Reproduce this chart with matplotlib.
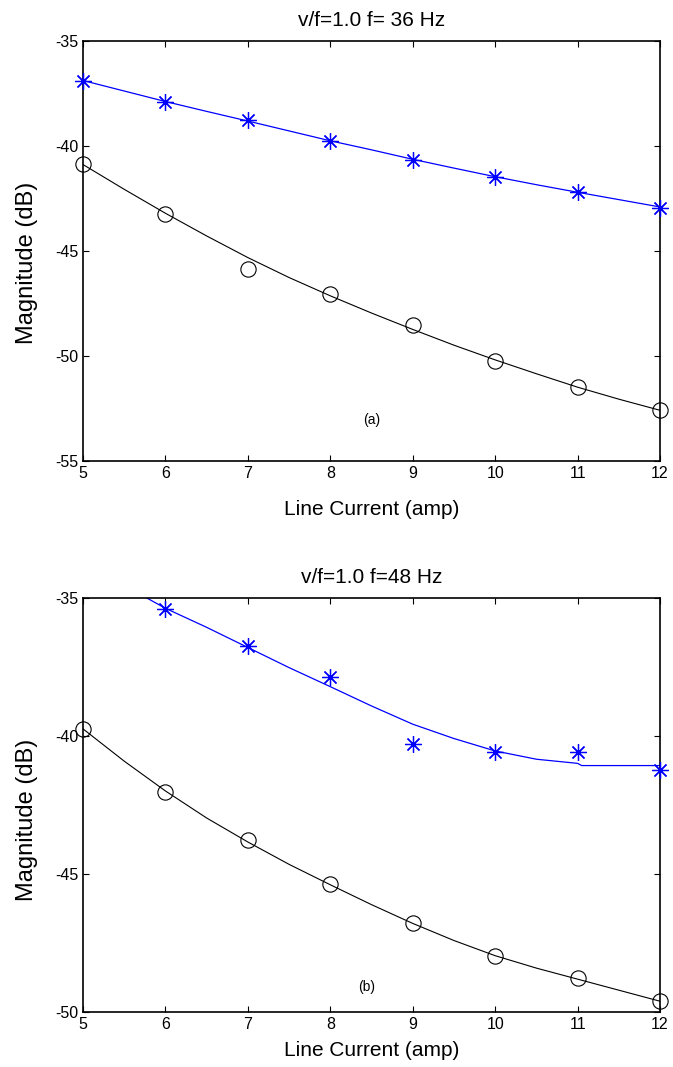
import matplotlib
matplotlib.use("Agg")
import matplotlib.pyplot as plt

plt.rcParams["font.family"] = ["Liberation Sans", "DejaVu Sans"]
plt.rcParams["axes.unicode_minus"] = False

# Line current (amp) at which the spectra were measured
current = [5, 6, 7, 8, 9, 10, 11, 12]

# ---- (a) v/f = 1.0, f = 36 Hz ----
a_star = [-36.9, -37.9, -38.8, -39.8, -40.7, -41.5, -42.2, -42.95]
a_circle = [-40.87, -43.24, -45.88, -47.08, -48.55, -50.27, -51.51, -52.59]
# fitted trend curves
a_fit_x = [5, 5.5, 6, 6.5, 7, 7.5, 8, 8.5, 9, 9.5, 10, 10.5, 11, 11.5, 12]
a_star_fit = [-36.9, -37.4, -37.9, -38.37, -38.83, -39.3, -39.77, -40.2,
              -40.65, -41.07, -41.48, -41.86, -42.22, -42.57, -42.92]
a_circle_fit = [-40.9, -42.08, -43.22, -44.3, -45.33, -46.28, -47.15, -47.97,
                -48.75, -49.5, -50.2, -50.86, -51.5, -52.07, -52.6]

# ---- (b) v/f = 1.0, f = 48 Hz ----
b_star_x = [6, 7, 8, 9, 10, 11, 12]
b_star = [-35.42, -36.75, -37.88, -40.3, -40.6, -40.6, -41.24]
b_circle = [-39.75, -42.04, -43.79, -45.37, -46.8, -47.97, -48.77, -49.62]
b_star_fit_x = [5.77, 6, 6.5, 7, 7.5, 8, 8.5, 9, 9.5, 10, 10.5, 11, 11.05, 12]
b_star_fit = [-35.0, -35.38, -36.07, -36.8, -37.53, -38.22, -38.92, -39.58,
              -40.1, -40.55, -40.85, -41.0, -41.08, -41.08]
b_circle_fit_x = [5, 5.5, 6, 6.5, 7, 7.5, 8, 8.5, 9, 9.5, 10, 10.5, 11, 11.5, 12]
b_circle_fit = [-39.75, -40.92, -42.0, -42.98, -43.85, -44.66, -45.4, -46.12,
                -46.8, -47.42, -47.97, -48.42, -48.82, -49.22, -49.62]

# panel geometry in figure pixels (left, right, top, bottom)
W, H = 673, 1067
panels = [
    dict(title="v/f=1.0 f= 36 Hz", tag="(a)", tag_xy=(8.5, -53.07),
         ylim=(-55, -35), yticks=[-55, -50, -45, -40, -35],
         star_x=current, star=a_star, circle=a_circle,
         sfit_x=a_fit_x, sfit=a_star_fit, cfit_x=a_fit_x, cfit=a_circle_fit,
         box=(83, 660, 40.6, 460.7), xlab_off=49, ylab_shift=12),
    dict(title="v/f=1.0 f=48 Hz", tag="(b)", tag_xy=(8.44, -49.09),
         ylim=(-50, -35), yticks=[-50, -45, -40, -35],
         star_x=b_star_x, star=b_star, circle=b_circle,
         sfit_x=b_star_fit_x, sfit=b_star_fit, cfit_x=b_circle_fit_x, cfit=b_circle_fit,
         box=(83, 660, 597.8, 1011.7), xlab_off=39, ylab_shift=15),
]

fig = plt.figure(figsize=(W / 100, H / 100), dpi=100)
asterisk = (8, 2, 0)

for p in panels:
    l, r, t, b = p["box"]
    w, h = r - l, b - t
    ax = fig.add_axes([l / W, 1 - b / H, w / W, h / H])
    ax.plot(p["cfit_x"], p["cfit"], color="black", lw=0.8, zorder=2)
    ax.plot(current, p["circle"], linestyle="none", marker="o", markersize=11,
            markerfacecolor="none", markeredgecolor="black", markeredgewidth=0.8,
            clip_on=False, zorder=3)
    ax.plot(p["sfit_x"], p["sfit"], color="#0000ff", lw=0.9, zorder=2)
    ax.plot(p["star_x"], p["star"], linestyle="none", marker=asterisk, markersize=12,
            markeredgecolor="#0000ff", markeredgewidth=0.9, color="#0000ff",
            clip_on=False, zorder=3)

    ax.set_xlim(5, 12)
    ax.set_ylim(*p["ylim"])
    ax.set_xticks(current)
    ax.set_yticks(p["yticks"])
    ax.tick_params(direction="in", length=4, width=0.8, top=True, right=True,
                   labelsize=11.5)
    ax.tick_params(axis="x", pad=4)
    ax.tick_params(axis="y", pad=3)
    for s in ax.spines.values():
        s.set_linewidth(1.2)

    ax.text(0.5, 1 + 20 / h, p["title"], transform=ax.transAxes, fontsize=15,
            ha="center", va="center")
    ax.set_xlabel("Line Current (amp)", fontsize=15)
    ax.xaxis.set_label_coords(0.5, -p["xlab_off"] / h)
    ax.xaxis.label.set_va("center")
    ax.set_ylabel("Magnitude (dB)", fontsize=17)
    ax.yaxis.set_label_coords(-56 / w, 0.5 - p["ylab_shift"] / h)
    ax.yaxis.label.set_va("center")
    ax.text(p["tag_xy"][0], p["tag_xy"][1], p["tag"], fontsize=10,
            ha="center", va="center")

fig.savefig("out.png", dpi=100, facecolor="white")
